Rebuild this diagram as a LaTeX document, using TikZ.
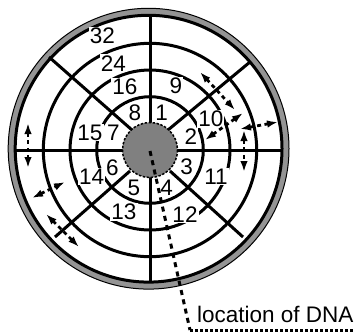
\documentclass[tikz,border=0pt]{standalone}
\usepackage{fontspec}
\setmainfont{Liberation Sans}
\usetikzlibrary{arrows.meta}
\begin{document}
\begin{tikzpicture}[x=1pt,y=-1pt,
  grid/.style={line width=3pt},
  mv/.style={line width=2.8pt, dash pattern=on 4pt off 3.5pt,
    {Latex[length=11pt,width=7.5pt]}-{Latex[length=11pt,width=7.5pt]}},
  lbl/.style={fill=white, inner sep=1pt, font=\fontsize{22.5}{25}\selectfont},
  dna/.style={line width=3pt, dash pattern=on 5pt off 4.5pt},
]
\useasboundingbox (0,0) rectangle (355,334);
% outer ring
\fill[black!42, even odd rule] (148.6,148.7) circle (140.4) (148.6,148.7) circle (133.4);
\draw[line width=1pt] (148.6,148.7) circle (140.4);
\draw[line width=3pt] (148.6,148.7) circle (133.4);
% track circles
\foreach \r in {53.3,80,106.7} \draw[grid] (150,150) circle (\r);
% radial lines
\draw[grid] (150,15) -- (150,282);
\draw[grid] (15,150) -- (282,150);
\draw[grid] (49,57) -- (132,130);
\draw[grid] (250,62) -- (168,130);
\draw[grid] (55,237) -- (130,171);
\draw[grid] (243,237) -- (170,171);
% central disk
\draw[fill=black!50, line width=1.5pt, dash pattern=on 2.5pt off 1.5pt] (150,150) circle (27.5);
% labels
\node[lbl] (n1) at (161.7,112.5) {1};
\node[lbl] (n2) at (190.8,136.7) {2};
\node[lbl] (n3) at (186.7,166.7) {3};
\node[lbl] (n4) at (166.7,187.5) {4};
\node[lbl] (n5) at (134,187.5) {5};
\node[lbl] (n6) at (112.5,167.5) {6};
\node[lbl] (n7) at (113.3,132.5) {7};
\node[lbl] (n8) at (135,113) {8};
\node[lbl] (n9) at (175.8,85.8) {9};
\node[lbl] (n10) at (210.8,119) {10};
\node[lbl] (n11) at (216,176.7) {11};
\node[lbl] (n12) at (185,214.2) {12};
\node[lbl] (n13) at (124,211.7) {13};
\node[lbl] (n14) at (91.7,176.7) {14};
\node[lbl] (n15) at (90,132.5) {15};
\node[lbl] (n16) at (125,86.7) {16};
\node[lbl] (n24) at (113.3,63.3) {24};
\node[lbl] (n32) at (102.5,35.8) {32};
% movement arrows
\coordinate (a1s) at (28,123); \coordinate (a1e) at (28,168);
\coordinate (a2s) at (32,198); \coordinate (a2e) at (65,182);
\coordinate (a3s) at (46,214); \coordinate (a3e) at (79,247);
\coordinate (a4s) at (200,72); \coordinate (a4e) at (235,110);
\coordinate (a5s) at (205,140); \coordinate (a5e) at (243,113);
\coordinate (a6s) at (240,129); \coordinate (a6e) at (278,122);
\coordinate (a7s) at (244,130); \coordinate (a7e) at (244,172);
\foreach \a in {1,...,7} \draw[mv] (a\a s) -- (a\a e);
% DNA location
\coordinate (dnaA) at (150,151);
\coordinate (dnaB) at (190,330);
\coordinate (dnaC) at (355,330);
\draw[dna] (dnaA) -- (dnaB);
\draw[line width=3pt, dash pattern=on 3.3pt off 1.7pt] (dnaB) -- (dnaC);
\node[anchor=base west, inner sep=0pt, font=\fontsize{22.5}{25}\selectfont] (dnatext) at (197,322) {location of DNA};
\end{tikzpicture}
\end{document}
